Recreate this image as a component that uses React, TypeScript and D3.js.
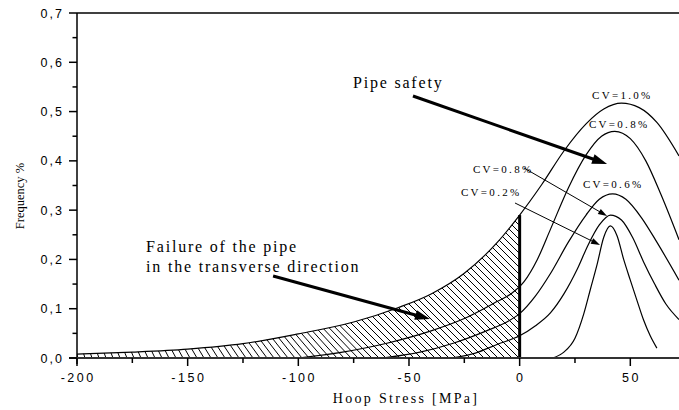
import React from 'react';
import * as d3 from 'd3';

// Hoop stress (MPa), frequency (%)
const cv10: [number, number][] = [
  [-200, 0.008], [-175, 0.012], [-150, 0.018], [-125, 0.029], [-100, 0.049], [-75, 0.073],
  [-55, 0.102], [-40, 0.13], [-25, 0.172], [-10, 0.235], [0, 0.29], [10, 0.352], [20, 0.42],
  [30, 0.475], [38, 0.505], [46, 0.517], [54, 0.508], [62, 0.478], [72, 0.41],
];
const cv08a: [number, number][] = [
  [-100, 0.0], [-80, 0.012], [-60, 0.03], [-40, 0.055], [-25, 0.08], [-10, 0.115], [-4, 0.13],
  [2, 0.155], [8, 0.2], [14, 0.262], [22, 0.345], [30, 0.412], [37, 0.45], [43, 0.46], [50, 0.445],
  [57, 0.4], [64, 0.33], [72, 0.24],
];
const cv06: [number, number][] = [
  [-62, 0.0], [-45, 0.012], [-30, 0.03], [-15, 0.055], [-5, 0.075], [0, 0.09], [7, 0.125],
  [14, 0.172], [22, 0.235], [30, 0.29], [36, 0.322], [42, 0.333], [48, 0.322], [55, 0.285],
  [62, 0.235], [72, 0.158],
];
const cv08b: [number, number][] = [
  [-31, 0.0], [-20, 0.01], [-10, 0.028], [0, 0.045], [7, 0.065], [14, 0.092], [20, 0.13],
  [26, 0.18], [31, 0.23], [36, 0.27], [41, 0.29], [46, 0.28], [51, 0.245], [56, 0.195],
  [61, 0.15], [66, 0.11], [72, 0.078],
];
const cv02: [number, number][] = [
  [15, 0.0], [20, 0.012], [25, 0.04], [29, 0.09], [32, 0.14], [35, 0.19], [38, 0.245],
  [41, 0.268], [44, 0.248], [47, 0.2], [50, 0.158], [53, 0.117], [56, 0.077], [59, 0.045],
  [62, 0.02],
];
const seriesList = [cv10, cv08a, cv06, cv08b, cv02];

const xMajorTicks = [-200, -150, -100, -50, 0, 50];
const xMinorTicks = [-175, -125, -75, -25, 25];
const yMajorTicks = [0, 0.1, 0.2, 0.3, 0.4, 0.5, 0.6, 0.7];
const yMinorTicks = [0.05, 0.15, 0.25, 0.35, 0.45, 0.55, 0.65];

const cvLabels = [
  { text: 'CV=1.0%', x: 32.7, y: 0.5255 },
  { text: 'CV=0.8%', x: 31.3, y: 0.4667 },
  { text: 'CV=0.6%', x: 28.6, y: 0.3449 },
  { text: 'CV=0.8%', x: -21.1, y: 0.3754 },
  { text: 'CV=0.2%', x: -26.5, y: 0.3287 },
];
const arrows = [
  { x1: -48.2, y1: 0.5316, x2: 39.5, y2: 0.3936, w: 3, hl: 15, hw: 5 },
  { x1: -111.4, y1: 0.1664, x2: -40.5, y2: 0.0791, w: 3, hl: 15, hw: 5 },
  { x1: 2.0, y1: 0.3855, x2: 39.5, y2: 0.2881, w: 1, hl: 9, hw: 3 },
  { x1: -2.1, y1: 0.3145, x2: 36.3, y2: 0.2293, w: 1, hl: 9, hw: 3 },
];
const notes = [
  { lines: ['Pipe safety'], x: -75.3, y: 0.5478 },
  { lines: ['Failure of the pipe', 'in the transverse direction'], x: -168.8, y: 0.2151 },
];

export default function App() {
  const W = 679, H = 410;
  const x = d3.scaleLinear().domain([-200, 72]).range([77, 679]);
  const y = d3.scaleLinear().domain([0, 0.7]).range([358, 13]);
  const line = d3.line<[number, number]>().x(d => x(d[0])).y(d => y(d[1])).curve(d3.curveMonotoneX);
  const area = d3.area<[number, number]>().x(d => x(d[0])).y0(y(0)).y1(d => y(d[1])).curve(d3.curveMonotoneX);
  const topPart = cv10.filter(d => d[0] <= 0);
  const y0 = y(0);

  const hatch: { x1: number; y1: number; x2: number; y2: number }[] = [];
  for (let xb = x(-200) + 1; xb <= x(0) + 160; xb += 7) {
    const t = Math.max(0, Math.min(1, (xb - x(-200)) / 300));
    const k = 0.3 + 0.7 * t;
    hatch.push({ x1: xb - k * 300, y1: y0 - 300, x2: xb + k * 5, y2: y0 + 5 });
  }

  const val0 = cv10.find(d => d[0] === 0)![1];

  const arrowHead = (a: typeof arrows[0]) => {
    const X1 = x(a.x1), Y1 = y(a.y1), X2 = x(a.x2), Y2 = y(a.y2);
    const dx = X2 - X1, dy = Y2 - Y1, L = Math.hypot(dx, dy);
    const ux = dx / L, uy = dy / L;
    const bx = X2 - ux * a.hl, by = Y2 - uy * a.hl;
    return {
      shaft: { X1, Y1, X2: X2 - ux * a.hl * 0.7, Y2: Y2 - uy * a.hl * 0.7 },
      pts: `${X2},${Y2} ${bx - uy * a.hw},${by + ux * a.hw} ${bx + uy * a.hw},${by - ux * a.hw}`,
    };
  };

  return (
    <svg width={W} height={H} style={{ position: 'absolute', left: 0, top: 0, background: '#fff' }}
      fontFamily="'Liberation Serif', 'Times New Roman', serif">
      <defs>
        <clipPath id="hatchClip">
          <path d={area(topPart)!} />
        </clipPath>
        <clipPath id="plotClip">
          <rect x={x(-200)} y={0} width={W - x(-200)} height={y0} />
        </clipPath>
      </defs>
      <rect x={0} y={0} width={W} height={H} fill="#fff" />

      {/* hatching */}
      <g clipPath="url(#hatchClip)">
        {hatch.map((h, i) => (
          <line key={i} x1={h.x1} y1={h.y1} x2={h.x2} y2={h.y2} stroke="#000" strokeWidth={1} />
        ))}
      </g>

      {/* curves */}
      <g clipPath="url(#plotClip)">
        {seriesList.map((s, i) => (
          <path key={i} d={line(s)!} fill="none" stroke="#000" strokeWidth={1.2} />
        ))}
      </g>

      {/* thick line at zero */}
      <line x1={x(0)} x2={x(0)} y1={y0} y2={y(val0)} stroke="#000" strokeWidth={3} />

      {/* axes */}
      <line x1={x(-200)} x2={W} y1={y(0.7)} y2={y(0.7)} stroke="#000" strokeWidth={1.5} />
      <line x1={x(-200)} x2={x(-200)} y1={y(0.7)} y2={y0 + 6} stroke="#000" strokeWidth={1.5} />
      <line x1={x(-200) - 8} x2={W} y1={y0} y2={y0} stroke="#333" strokeWidth={2} />

      {yMajorTicks.map(v => (
        <g key={'ym' + v}>
          <line x1={x(-200) - 8} x2={x(-200)} y1={y(v)} y2={y(v)} stroke="#000" strokeWidth={1.5} />
          <text x={x(-200) - 13} y={y(v) + 4.5} textAnchor="end" fontFamily="'Liberation Sans', Arial, sans-serif"
            fontSize={12.5} letterSpacing={2}>{v.toFixed(1).replace('.', ',')}</text>
        </g>
      ))}
      {yMinorTicks.map(v => (
        <line key={'yn' + v} x1={x(-200) - 4.5} x2={x(-200)} y1={y(v)} y2={y(v)} stroke="#000" strokeWidth={1.5} />
      ))}
      {xMajorTicks.map(v => (
        <g key={'xm' + v}>
          <line x1={x(v)} x2={x(v)} y1={y0} y2={y0 + 8} stroke="#000" strokeWidth={1.5} />
          <text x={x(v) + 1.2} y={y0 + 24} textAnchor="middle" fontFamily="'Liberation Sans', Arial, sans-serif"
            fontSize={12.5} letterSpacing={2.5}>{v}</text>
        </g>
      ))}
      {xMinorTicks.map(v => (
        <line key={'xn' + v} x1={x(v)} x2={x(v)} y1={y0} y2={y0 + 5} stroke="#000" strokeWidth={1.5} />
      ))}

      {/* axis titles */}
      <text x={406} y={403} textAnchor="middle" fontSize={14} letterSpacing={2.3}>Hoop Stress [MPa]</text>
      <text transform="translate(24,196) rotate(-90)" textAnchor="middle" fontSize={12.5}>Frequency %</text>

      {/* annotations */}
      {notes.map((n, i) => (
        <text key={'n' + i} x={x(n.x)} y={y(n.y)} fontSize={16} letterSpacing={1.8}>
          {n.lines.map((l, j) => (
            <tspan key={j} x={x(n.x)} dy={j === 0 ? 0 : 20}>{l}</tspan>
          ))}
        </text>
      ))}
      {cvLabels.map((c, i) => (
        <text key={'c' + i} x={x(c.x)} y={y(c.y)} fontSize={11} letterSpacing={2.3}>{c.text}</text>
      ))}
      {arrows.map((a, i) => {
        const h = arrowHead(a);
        return (
          <g key={'a' + i}>
            <line x1={h.shaft.X1} y1={h.shaft.Y1} x2={h.shaft.X2} y2={h.shaft.Y2} stroke="#000" strokeWidth={a.w} />
            <polygon points={h.pts} fill="#000" />
          </g>
        );
      })}
    </svg>
  );
}
